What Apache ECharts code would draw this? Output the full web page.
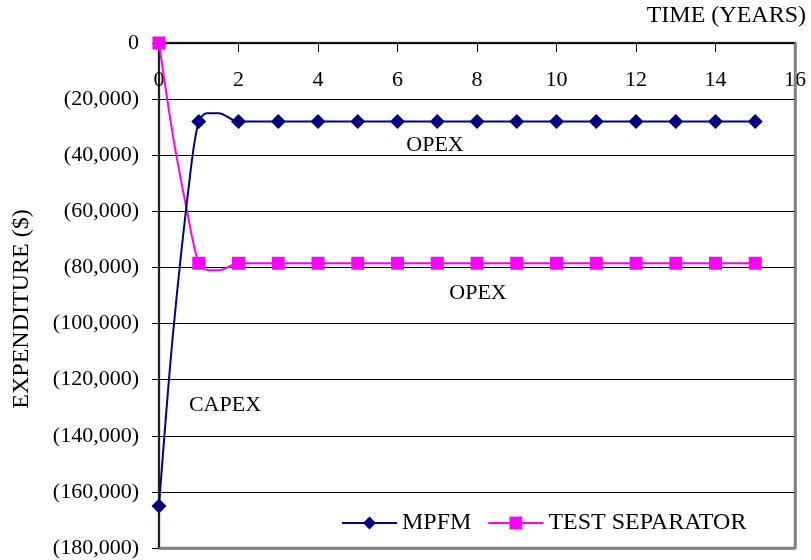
<!DOCTYPE html>
<html>
<head>
<meta charset="utf-8">
<script src="https://cdn.jsdelivr.net/npm/echarts@6/dist/echarts.min.js"></script>
<style>html,body{margin:0;padding:0;background:#fff;}#c{width:811px;height:560px;background:#fff;}</style>
</head>
<body>
<div id="c"></div>
<script>
// Time (years) values, including points read along the curved start of each line
var mpfmYears = [0, 0.35, 0.8, 1, 1.2, 1.5, 2, 3, 4, 5, 6, 7, 8, 9, 10, 11, 12, 13, 14, 15];
var mpfmValues = [-165000, -104000, -45000, -28000, -25000, -25000, -28000, -28000, -28000, -28000, -28000, -28000, -28000, -28000, -28000, -28000, -28000, -28000, -28000, -28000];
var sepYears = [0, 0.35, 0.7, 1, 1.25, 1.5, 2, 3, 4, 5, 6, 7, 8, 9, 10, 11, 12, 13, 14, 15];
var sepValues = [0, -33000, -59500, -78500, -81000, -81000, -78500, -78500, -78500, -78500, -78500, -78500, -78500, -78500, -78500, -78500, -78500, -78500, -78500, -78500];
var xTicks = [0, 2, 4, 6, 8, 10, 12, 14, 16];
var yTicks = [0, -20000, -40000, -60000, -80000, -100000, -120000, -140000, -160000, -180000];
var seriesNames = ['MPFM', 'TEST SEPARATOR'];

function build(xs, ys) {
  return xs.map(function (x, i) {
    var item = { value: [x, ys[i]] };
    if (Math.round(x) !== x) item.symbol = 'none';
    return item;
  });
}
function fmt(v) {
  if (v === 0) return '0';
  var s = Math.abs(v).toLocaleString('en-US');
  return v < 0 ? '(' + s + ')' : s;
}
var font = '"Liberation Serif", "Times New Roman", serif';
var xMin = xTicks[0], xMax = xTicks[xTicks.length - 1];
var yMin = yTicks[yTicks.length - 1], yMax = yTicks[0];
var chart = echarts.init(document.getElementById('c'), null, { renderer: 'canvas' });
chart.setOption({
  animation: false,
  textStyle: { fontFamily: font, color: '#000' },
  grid: { left: 159, top: 43, right: 16, bottom: 12, show: true, borderColor: '#808080', borderWidth: 2.5 },
  xAxis: {
    type: 'value', position: 'top', min: xMin, max: xMax, interval: 2,
    axisLine: { show: true, onZero: false, lineStyle: { color: '#000', width: 1.5 } },
    axisTick: { show: true, inside: true, length: 9, lineStyle: { color: '#000', width: 1 } },
    axisLabel: { inside: true, margin: 26, fontSize: 22, fontFamily: font, color: '#000' },
    splitLine: { show: false }
  },
  yAxis: {
    type: 'value', min: yMin, max: yMax, interval: 20000,
    axisLine: { show: true, onZero: false, lineStyle: { color: '#000', width: 1.5 } },
    axisTick: { show: true, length: 7, lineStyle: { color: '#000', width: 1 } },
    axisLabel: { margin: 20, fontSize: 22, fontFamily: font, color: '#000', formatter: fmt },
    splitLine: { show: true, showMinLine: false, lineStyle: { color: '#000', width: 1 } }
  },
  legend: {
    left: 336, top: 506, itemWidth: 55, itemHeight: 16, itemGap: 16,
    textStyle: { fontSize: 24, fontFamily: font, color: '#000' },
    data: seriesNames
  },
  graphic: [
    { id: 'tTime', type: 'text', right: 5, top: 4, style: { text: 'TIME (YEARS)', font: '24px ' + font, fill: '#000' } },
    { id: 'tExp', type: 'text', x: 22, y: 309, rotation: Math.PI / 2, style: { text: 'EXPENDITURE ($)', font: '24px ' + font, fill: '#000', textAlign: 'center', textVerticalAlign: 'middle' } },
    { id: 'tOpex1', type: 'text', x: 435, y: 145, style: { text: 'OPEX', font: '22px ' + font, fill: '#000', textAlign: 'center', textVerticalAlign: 'middle' } },
    { id: 'tOpex2', type: 'text', x: 478, y: 293, style: { text: 'OPEX', font: '22px ' + font, fill: '#000', textAlign: 'center', textVerticalAlign: 'middle' } },
    { id: 'tCapex', type: 'text', x: 225, y: 405, style: { text: 'CAPEX', font: '22px ' + font, fill: '#000', textAlign: 'center', textVerticalAlign: 'middle' } }
  ],
  series: [
    {
      name: seriesNames[0], type: 'line', smooth: 0.3, data: build(mpfmYears, mpfmValues),
      symbol: 'diamond', symbolSize: 15, z: 3,
      lineStyle: { color: '#000080', width: 2 }, itemStyle: { color: '#000080' },
      markLine: {
        silent: true, symbol: 'none', animation: false,
        label: { show: false },
        lineStyle: { color: '#808080', width: 2.5, type: 'solid' },
        emphasis: { disabled: true },
        data: [{ xAxis: xMax }, { yAxis: yMin }]
      }
    },
    {
      name: seriesNames[1], type: 'line', smooth: 0.3, data: build(sepYears, sepValues),
      symbol: 'rect', symbolSize: 13, z: 2,
      lineStyle: { color: '#FF00FF', width: 2 }, itemStyle: { color: '#FF00FF' }
    }
  ]
});
</script>
</body>
</html>
